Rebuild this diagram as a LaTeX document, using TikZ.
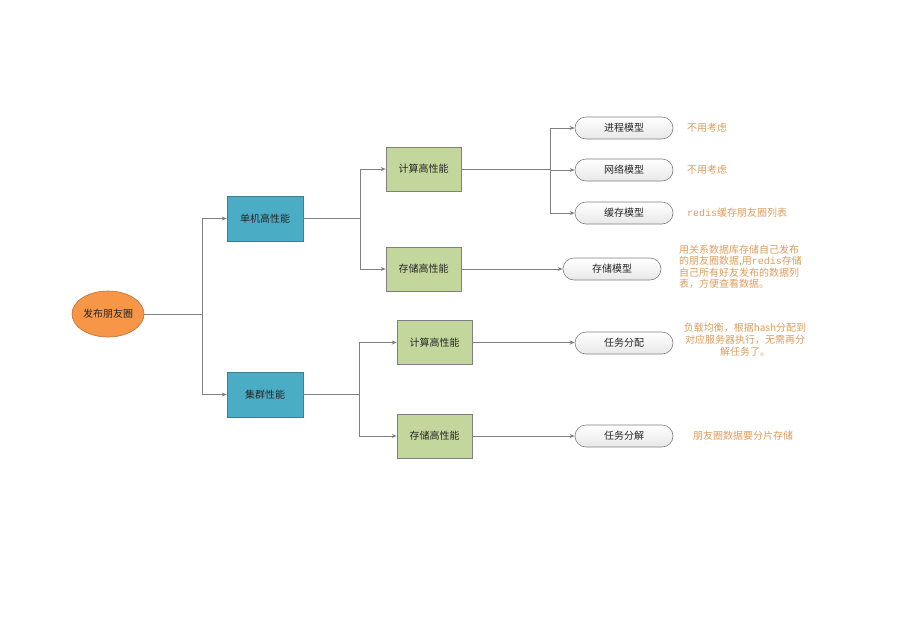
\documentclass[tikz,border=0pt]{standalone}
\usepackage{fontspec}
\setmainfont{Noto Sans CJK SC}
\newfontfamily\monofont{Liberation Mono}
\usetikzlibrary{shapes.geometric,arrows.meta}
\definecolor{orangefill}{HTML}{F79646}
\definecolor{orangeline}{HTML}{B9703A}
\definecolor{bluefill}{HTML}{4BACC6}
\definecolor{blueline}{HTML}{3A7F92}
\definecolor{greenfill}{HTML}{C3D69B}
\definecolor{greyline}{HTML}{7F7F7F}
\definecolor{notecol}{HTML}{DB9C5C}
\definecolor{txt}{HTML}{262626}
\begin{document}
\begin{tikzpicture}[x=1pt,y=-1pt,
  every node/.style={font=\fontsize{10}{11}\selectfont, text=txt, inner sep=0pt},
  rootbox/.style={ellipse, draw=orangeline, fill=orangefill, minimum width=72pt, minimum height=46pt, line width=0.6pt},
  bluebox/.style={draw=blueline, fill=bluefill, minimum width=76pt, minimum height=45pt, line width=0.6pt},
  greenbox/.style={draw=greyline, fill=greenfill, minimum width=75pt, minimum height=44pt, line width=0.6pt},
  pillbox/.style={draw=greyline, rounded corners=11pt, top color=white, bottom color=black!9, minimum width=98pt, minimum height=22pt, line width=0.6pt},
  note/.style={text=notecol, font=\fontsize{10}{11.2}\selectfont},
  conn/.style={draw=greyline, line width=0.7pt},
  arr/.style={conn, -{Stealth[length=5pt,width=4pt]}}
]
\useasboundingbox (0,0) rectangle (898,635);

\node[rootbox] (root) at (108,314) {发布朋友圈};
\node[bluebox] (a1) at (265,218.5) {单机高性能};
\node[bluebox] (a2) at (265,394.5) {集群性能};
\node[greenbox] (b1) at (423.5,169) {计算高性能};
\node[greenbox] (b2) at (423.5,269) {存储高性能};
\node[greenbox] (b3) at (434.5,342.5) {计算高性能};
\node[greenbox] (b4) at (434.5,436) {存储高性能};
\node[pillbox] (c1) at (624,128) {进程模型};
\node[pillbox] (c2) at (624,170) {网络模型};
\node[pillbox] (c3) at (624,213) {缓存模型};
\node[pillbox] (c4) at (612,269) {存储模型};
\node[pillbox] (c5) at (624,343) {任务分配};
\node[pillbox] (c6) at (624,436) {任务分解};

\node[note, anchor=west] (n1) at (687,128) {不用考虑};
\node[note, anchor=west] (n2) at (687,170) {不用考虑};
\node[note, anchor=west] (n3) at (687,213) {{\monofont redis}缓存朋友圈列表};
\node[note, anchor=north west, align=left] (n4) at (679,245) {用关系数据库存储自己发布\\的朋友圈数据,用{\monofont redis}存储\\自己所有好友发布的数据列\\表，方便查看数据。};
\node[note, align=center, font=\fontsize{10}{12}\selectfont] (n5) at (745,340) {负载均衡，根据hash分配到\\对应服务器执行，无需再分\\解任务了。};
\node[note, anchor=west] (n6) at (693,436) {朋友圈数据要分片存储};

\coordinate (j0) at (202,314);
\coordinate (j1) at (360,218.5);
\coordinate (j2) at (359,394.5);
\coordinate (j3) at (550,169);

\draw[conn] (root.east) -- (j0);
\draw[arr] (j0) |- (a1.west);
\draw[arr] (j0) |- (a2.west);
\draw[conn] (a1.east) -- (j1);
\draw[arr] (j1) |- (b1.west);
\draw[arr] (j1) |- (b2.west);
\draw[conn] (a2.east) -- (j2);
\draw[arr] (j2) |- (b3.west);
\draw[arr] (j2) |- (b4.west);
\draw[conn] (b1.east) -- (j3);
\draw[arr] (j3) |- (c1.west);
\draw[arr] (j3) |- (c2.west);
\draw[arr] (j3) |- (c3.west);
\draw[arr] (b2.east) -- (c4.west);
\draw[arr] (b3.east) -- (b3.east -| c5.west);
\draw[arr] (b4.east) -- (c6.west);
\end{tikzpicture}
\end{document}
